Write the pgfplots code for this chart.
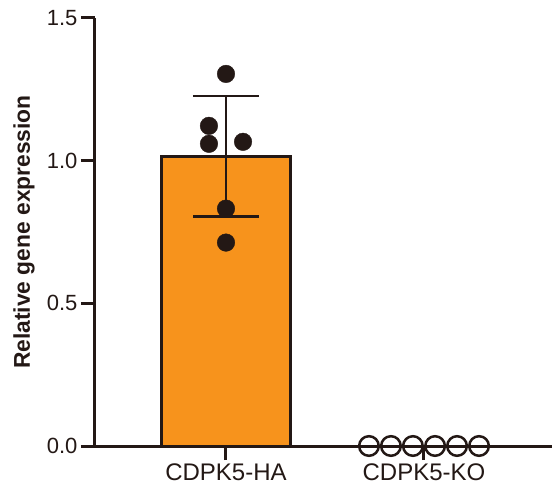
\documentclass[border=0pt]{standalone}
\usepackage{pgfplots}
\pgfplotsset{compat=1.18}
\usepackage{fontspec}
\setmainfont{Liberation Sans}
\definecolor{ink}{HTML}{231815}
\definecolor{barorange}{HTML}{F7931C}
\begin{document}
\begin{tikzpicture}
\useasboundingbox (-95bp,-47bp) rectangle (457bp,446bp);
\begin{axis}[
  at={(0,0)}, anchor=south west,
  scale only axis, width=457bp, height=428bp,
  xmin=-0.6616, xmax=1.6465, ymin=0, ymax=1.5,
  axis x line*=bottom, axis y line*=left,
  axis line style={line width=3bp, ink},
  xtick={0,1}, xticklabels={CDPK5-HA,CDPK5-KO},
  ytick={0,0.5,1,1.5},
  /pgf/number format/assume math mode=true,
  tick align=outside, major tick length=14bp,
  tick style={line width=3bp, ink},
  yticklabel style={font=\fontsize{22bp}{26bp}\selectfont, text=ink,
    /pgf/number format/fixed, /pgf/number format/fixed zerofill, /pgf/number format/precision=1},
  xticklabel style={font=\fontsize{24bp}{28bp}\selectfont, text=ink},
  ylabel={Relative gene expression},
  ylabel style={font=\fontsize{22.8bp}{27bp}\selectfont\bfseries, text=ink, at={([xshift=-71bp]axis description cs:0,0.5)}, anchor=center},
  clip=false,
]
\addplot[ybar, bar width=0.6465, fill=barorange, draw=ink, line width=3bp] coordinates {(0,1.015)};
\addplot[ink, mark=none, line width=2.5bp,
  error bars/.cd, y dir=both, y explicit,
  error bar style={line width=2.5bp, ink},
  error mark options={rotate=90, mark size=33bp, line width=2.5bp, ink}]
  coordinates {(0,1.015) +- (0,0.2115)};
\addplot[only marks, mark=*, mark size=8.8bp, ink, mark options={fill=ink, draw=none}] coordinates {
  (0,1.304) (-0.086,1.122) (-0.086,1.059) (0.086,1.066) (0,0.832) (0,0.713)};
\addplot[only marks, mark=o, mark size=9.8bp, ink, mark options={line width=2.5bp, fill=none}] coordinates {
  (0.722,0) (0.833,0) (0.944,0) (1.056,0) (1.167,0) (1.278,0)};
\end{axis}
\end{tikzpicture}
\end{document}
